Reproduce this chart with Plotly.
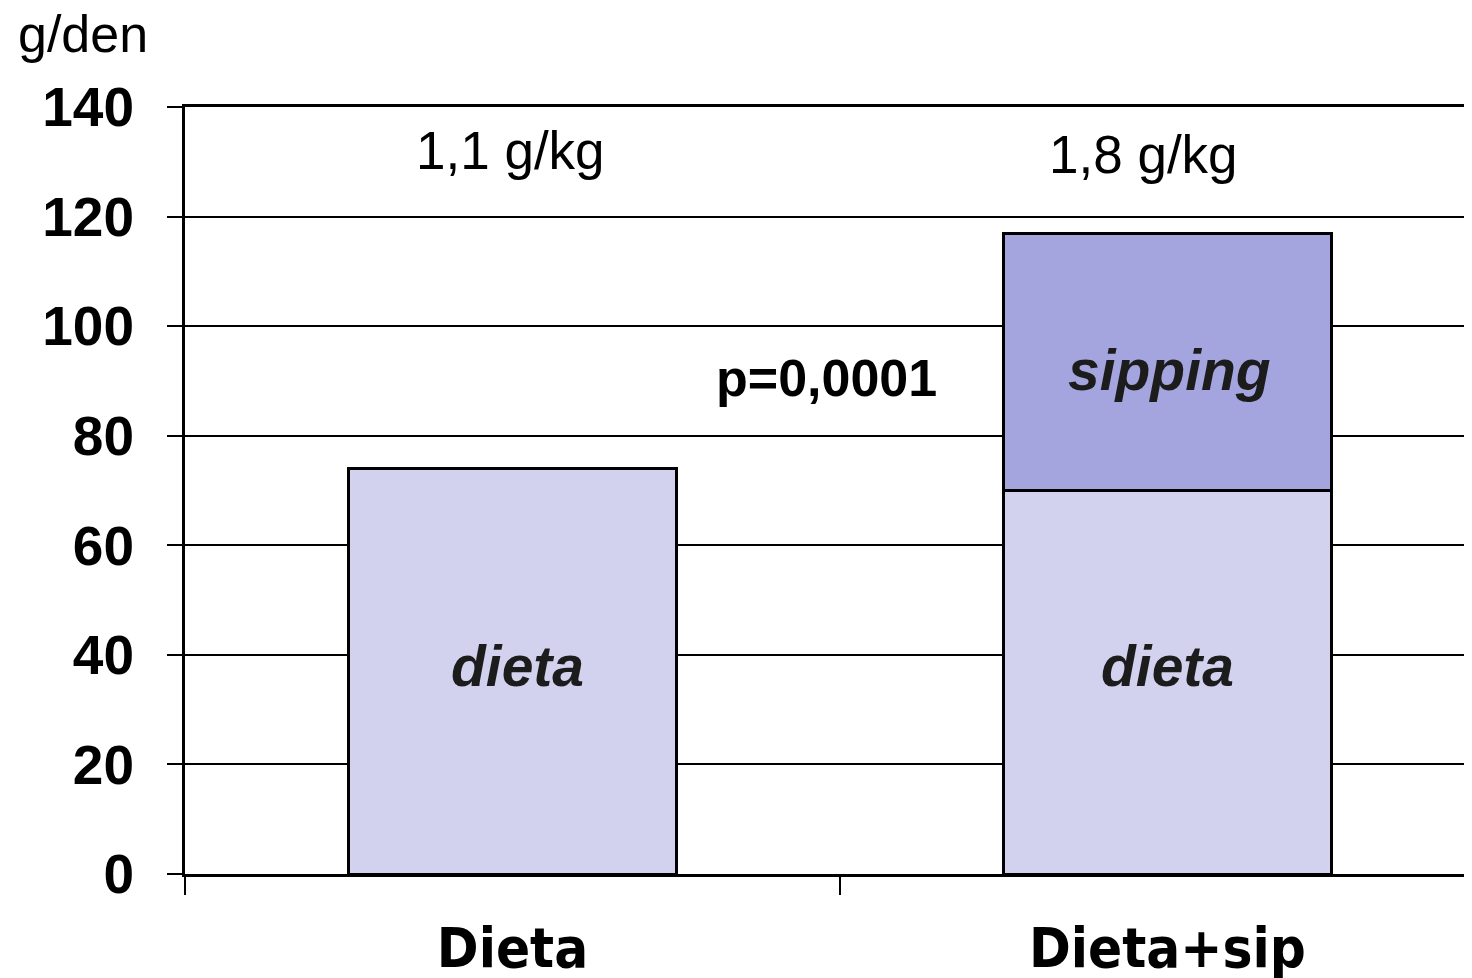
import plotly.graph_objects as go

categories = ["Dieta", "Dieta+sip"]
dieta_values = [74, 70]
sipping_values = [0, 47]
top_labels = ["1,1 g/kg", "1,8 g/kg"]
y_ticks = [0, 20, 40, 60, 80, 100, 120, 140]

light = "#D2D2EF"
dark = "#A4A4DF"

fig = go.Figure()
fig.add_trace(go.Bar(
    x=categories, y=dieta_values, width=0.5,
    marker=dict(color=light, line=dict(color="black", width=3)),
    showlegend=False, hoverinfo="skip"))
fig.add_trace(go.Bar(
    x=categories[1:], y=sipping_values[1:], width=0.5,
    marker=dict(color=dark, line=dict(color="black", width=3)),
    showlegend=False, hoverinfo="skip"))

fig.update_layout(
    barmode="stack",
    width=1472, height=978,
    margin=dict(l=177, r=8, t=99, b=112, autoexpand=False),
    plot_bgcolor="white", paper_bgcolor="white",
    title=dict(text="g/den", xref="container", yref="container",
               x=10 / 1472, xanchor="left", y=1 - 26 / 978, yanchor="middle",
               font=dict(family="Liberation Sans", size=52, color="black")),
)
fig.update_xaxes(
    type="category", range=[-0.5, 1.465], automargin=False,
    showline=True, linecolor="black", linewidth=3, mirror=True,
    ticks="outside", tickson="boundaries", ticklen=18, tickwidth=2, tickcolor="black",
    tickfont=dict(family="DejaVu Sans Condensed, Liberation Sans", size=56, color="black", weight="bold"),
    ticklabelstandoff=23,
    showgrid=False,
)
fig.update_yaxes(
    range=[0, 140], tickvals=y_ticks, automargin=False,
    showline=True, linecolor="black", linewidth=3,
    showgrid=True, gridcolor="black", gridwidth=2,
    ticks="outside", ticklen=15, tickwidth=2, tickcolor="black",
    tickfont=dict(family="Liberation Sans", size=55, color="black", weight="bold"),
    ticklabelstandoff=22,
    zeroline=False,
)

lab_font = dict(family="Liberation Sans", size=57, color="#1c1c1c", weight="bold", style="italic")
annotations = []
for cat, lbl, yv, xs in zip(categories, top_labels, [132, 131.3], [-2, -24]):
    annotations.append(dict(text=lbl, x=cat, y=yv, xref="x", yref="y", showarrow=False, xshift=xs,
                            font=dict(family="Liberation Sans", size=53, color="black")))
annotations.append(dict(text="<b>p=0,0001</b>", x=0.5, y=90.5, xref="x", yref="y", showarrow=False,
                        xshift=-13, font=dict(family="Liberation Sans", size=52, color="black")))
for cat, xs in zip(categories, [5, 0]):
    annotations.append(dict(text="dieta", x=cat, y=38, xref="x", yref="y", showarrow=False,
                            xshift=xs, font=lab_font))
annotations.append(dict(text="sipping", x=categories[1], y=92, xref="x", yref="y", showarrow=False,
                        xshift=2, font=lab_font))
fig.update_layout(annotations=annotations)

fig.write_html("out.html")
